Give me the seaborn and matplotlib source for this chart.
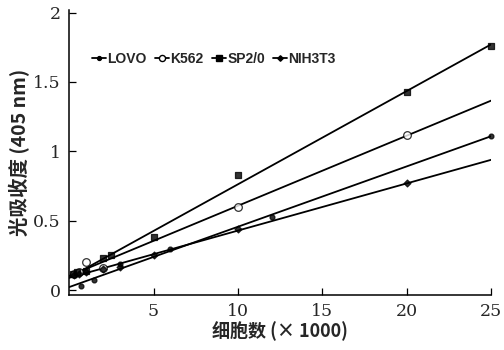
import numpy as np
import pandas as pd
import matplotlib
matplotlib.use("Agg")
import matplotlib.pyplot as plt
import seaborn as sns

# ---- data ----
lovo_x = [0.7, 1.5, 3, 6, 12, 25]
lovo_y = [0.03, 0.07, 0.19, 0.30, 0.53, 1.11]

k562_x = [0.3, 0.6, 1.0, 2.0, 10, 20]
k562_y = [0.12, 0.13, 0.20, 0.16, 0.60, 1.12]

sp20_x = [0.25, 0.5, 1.0, 2.0, 2.5, 5, 10, 20, 25]
sp20_y = [0.12, 0.13, 0.14, 0.23, 0.25, 0.38, 0.83, 1.43, 1.76]

nih_x = [0.3, 0.6, 1.0, 2.0, 3.0, 5, 10, 20]
nih_y = [0.11, 0.12, 0.13, 0.15, 0.17, 0.25, 0.44, 0.77]

series_names = ["LOVO", "K562", "SP2/0", "NIH3T3"]
x_ticks = [5, 10, 15, 20, 25]
x_ticklabels = ["5", "10", "15", "20", "25"]
y_ticks = [0, 0.5, 1, 1.5, 2]
y_ticklabels = ["0", "0.5", "1", "1.5", "2"]

sns.set_style("ticks")
plt.rcParams["font.family"] = ["Noto Sans CJK SC", "DejaVu Sans"]

fig = plt.figure(figsize=(5.04, 3.5), dpi=100)
ax = fig.add_axes([0.137, 0.157, 0.838, 0.815])
ax.set_xlim(0, 25)
ax.set_ylim(-0.035, 2.02)

styles = {
    "LOVO": dict(marker="o", ms=3.5, mfc="black"),
    "K562": dict(marker="o", ms=5.5, mfc="white"),
    "SP2/0": dict(marker="s", ms=5, mfc="black"),
    "NIH3T3": dict(marker="D", ms=3.5, mfc="black"),
}
data = {
    "LOVO": (lovo_x, lovo_y),
    "K562": (k562_x, k562_y),
    "SP2/0": (sp20_x, sp20_y),
    "NIH3T3": (nih_x, nih_y),
}

handles = []
for name in series_names:
    xs, ys = data[name]
    df = pd.DataFrame({"x": xs, "y": ys})
    st = styles[name]
    sns.regplot(data=df, x="x", y="y", ax=ax, ci=None, truncate=False,
                marker=st["marker"],
                scatter_kws=dict(s=st["ms"] ** 2, facecolors=st["mfc"],
                                 edgecolors="black", linewidths=0.9,
                                 clip_on=False, zorder=3),
                line_kws=dict(color="black", lw=1.3, zorder=2),
                color="black")
    h, = ax.plot([], [], color="black", lw=1.3, marker=st["marker"],
                 ms=st["ms"] * 0.8, mfc=st["mfc"], mec="black", label=name)
    handles.append(h)

ax.set_xlim(0, 25)
ax.set_ylim(-0.035, 2.02)

serif = "DejaVu Serif"
ax.set_xticks(x_ticks)
ax.set_xticklabels(x_ticklabels, fontsize=12.5, family=serif)
ax.set_yticks(y_ticks)
ax.set_yticklabels(y_ticklabels, fontsize=12.5, family=serif)
ax.tick_params(axis="both", direction="in", length=5, width=0.9, color="black")
ax.tick_params(axis="x", pad=6)
ax.tick_params(axis="y", pad=6)

for s in ["top", "right"]:
    ax.spines[s].set_visible(False)
for s in ["left", "bottom"]:
    ax.spines[s].set_linewidth(1.1)
    ax.spines[s].set_color("black")

ax.set_xlabel("细胞数 (× 1000)", fontsize=13, fontweight="bold",
              family=["Noto Sans CJK SC", "DejaVu Sans"], labelpad=1)
ax.set_ylabel("光吸收度 (405 nm)", fontsize=14, fontweight="bold",
              family=["Noto Sans CJK SC", "DejaVu Sans"], labelpad=2)

leg = ax.legend(handles=handles, loc="upper left", bbox_to_anchor=(0.025, 0.895),
                ncol=4, frameon=False, handlelength=1.0, handletextpad=0.1,
                columnspacing=0.6,
                prop=dict(family="Liberation Sans", weight="bold", size=10))

fig.savefig("out.png", dpi=100)
